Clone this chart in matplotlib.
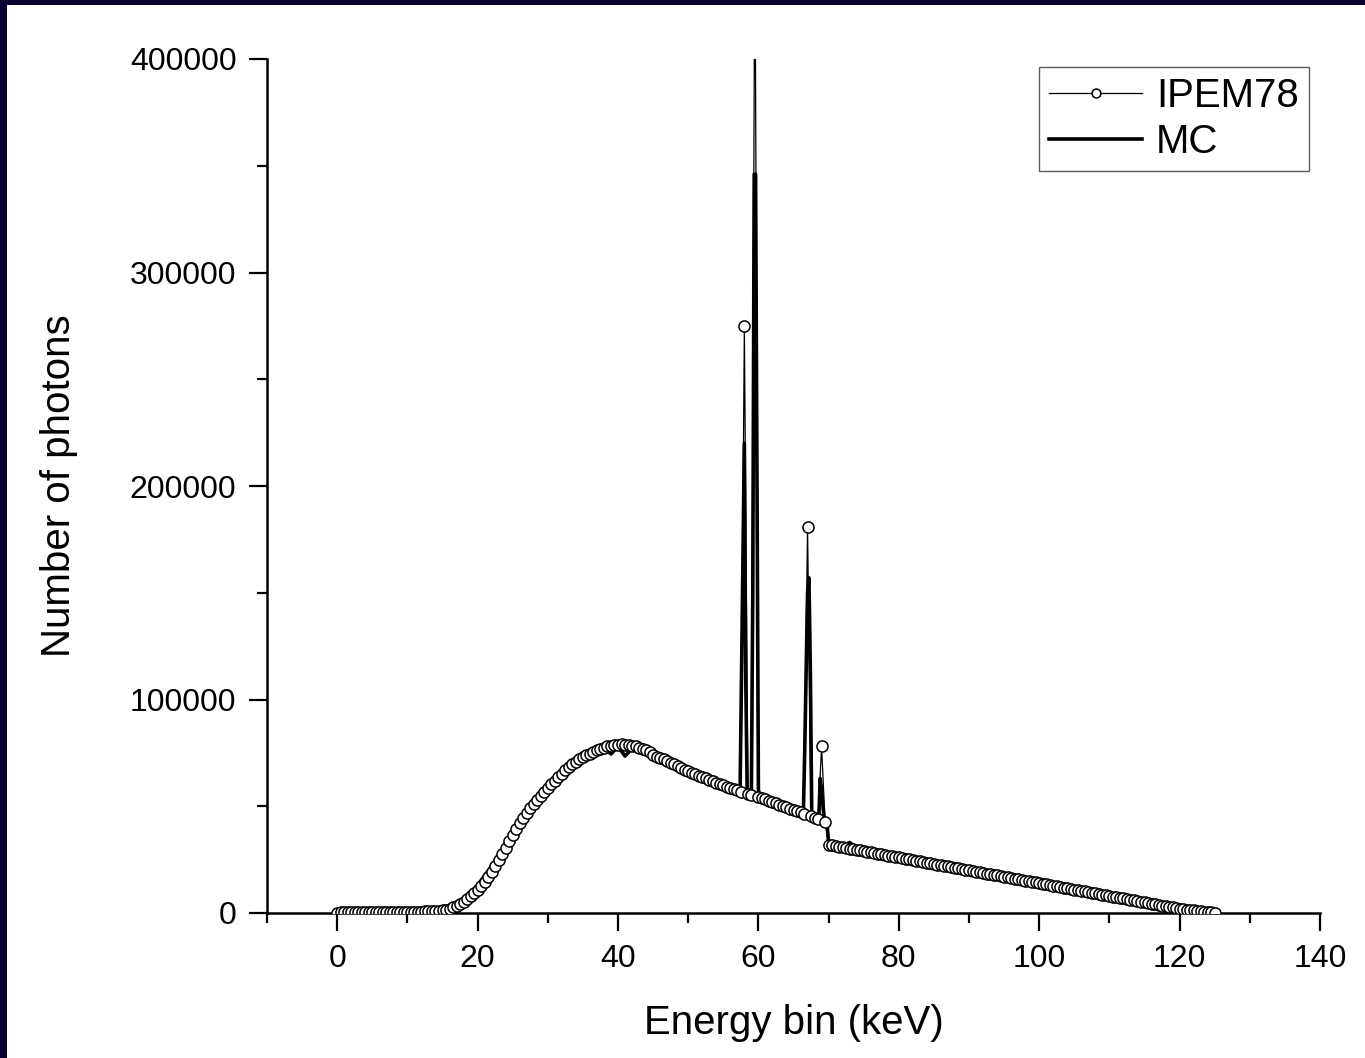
import numpy as np
import matplotlib
matplotlib.use("Agg")
import matplotlib.pyplot as plt
from matplotlib.patches import Rectangle

# IPEM78 spectrum, 0.5 keV bins from 0 to 125 keV (counts)
ipem_counts = [
    200, 300, 400, 400, 500, 500, 500, 500, 500, 500,
    500, 500, 600, 600, 600, 600, 600, 600, 600, 600,
    600, 700, 700, 700, 700, 800, 800, 900, 1000, 1100,
    1300, 1600, 2000, 2600, 3300, 4200, 5200, 6500, 7800, 9300,
    10800, 12600, 14600, 16800, 19200, 21800, 24600, 27500, 30500, 33500,
    36500, 39300, 42000, 44500, 46800, 49000, 51100, 53100, 55000, 56800,
    58500, 60300, 62000, 63700, 65300, 66900, 68300, 69600, 70800, 71900,
    72900, 73800, 74700, 75500, 76200, 76900, 77500, 78000, 78400, 78700,
    78900, 79000, 78900, 78700, 78400, 78000, 77500, 76900, 76200, 75400,
    74000, 73300, 72600, 71900, 71200, 70400, 69600, 68800, 68000, 67200,
    66400, 65700, 65000, 64300, 63600, 63000, 62300, 61700, 61000, 60400,
    59800, 59200, 58600, 58000, 57400, 56800, 275000, 55800, 55300, 470000,
    54300, 53800, 53200, 52600, 52000, 51400, 50700, 50100, 49500, 48900,
    48300, 47700, 47100, 46500, 181000, 45300, 44700, 44100, 78000, 42500,
    32000, 31700, 31400, 31100, 30800, 30500, 30200, 29900, 29600, 29300,
    29000, 28700, 28400, 28100, 27800, 27500, 27200, 26900, 26600, 26300,
    26000, 25700, 25400, 25100, 24800, 24500, 24200, 23900, 23600, 23300,
    23000, 22700, 22400, 22100, 21800, 21500, 21200, 20900, 20600, 20300,
    20000, 19700, 19400, 19100, 18800, 18500, 18200, 17900, 17600, 17300,
    17000, 16700, 16400, 16100, 15800, 15500, 15200, 14900, 14600, 14300,
    14000, 13700, 13400, 13100, 12800, 12500, 12200, 11900, 11600, 11300,
    11000, 10700, 10400, 10100, 9800, 9500, 9200, 8900, 8600, 8300,
    8000, 7700, 7400, 7100, 6800, 6500, 6200, 5900, 5600, 5300,
    5000, 4700, 4400, 4100, 3800, 3500, 3200, 2900, 2600, 2300,
    2000, 1800, 1600, 1400, 1200, 1000, 800, 600, 400, 250,
    100,
]
ipem_energy = np.arange(0, 125.5, 0.5)

# Monte Carlo spectrum (finer bins around the tungsten K lines)
mc_energy = [
    0, 1, 2, 3, 4, 5, 6, 7, 8, 9, 10, 11, 12, 13, 14, 15, 16, 17, 18, 19,
    20, 21, 22, 23, 24, 25, 26, 27, 28, 29, 30, 31, 32, 33, 34, 35, 36, 37, 38, 39,
    40, 41, 42, 43, 44, 45, 46, 47, 48, 49, 50, 51, 52, 53, 54, 55, 56, 57,
    57.2, 57.4, 57.6, 57.8, 58.0, 58.2, 58.4, 58.6, 58.8, 59.0,
    59.2, 59.4, 59.6, 59.8, 60.0, 60.2,
    61, 62, 63, 64, 65, 66,
    66.4, 66.6, 66.8, 67.0, 67.2, 67.4, 67.6, 67.8, 68.0, 68.4,
    68.6, 68.8, 69.0, 69.2, 69.4, 69.6, 69.8, 70.0, 70.2,
    71, 72, 73, 74, 75, 76, 77, 78, 79, 80, 81, 82, 83, 84, 85, 86, 87, 88, 89,
    90, 91, 92, 93, 94, 95, 96, 97, 98, 99, 100, 101, 102, 103, 104, 105, 106,
    107, 108, 109, 110, 111, 112, 113, 114, 115, 116, 117, 118, 119, 120, 121,
    122, 123, 124, 125,
]
mc_counts = [
    300, 500, 600, 500, 600, 700, 600, 700, 800, 700, 800, 900, 900, 1100, 1400,
    1800, 2500, 4000, 6500, 9500,
    13000, 17500, 22000, 27000, 32500, 38000, 43000, 47500, 51500, 55500,
    59000, 62500, 66000, 69000, 71500, 73500, 75500, 76500, 77500, 74500,
    78000, 73500, 77000, 76000, 75000, 73500, 72000, 70500, 69000, 67500,
    66000, 64500, 63500, 62000, 61000, 59500, 58500, 57000,
    57500, 60000, 113000, 166000, 220000, 110000, 57000, 56000, 56500, 56000,
    151000, 346000, 346000, 198000, 58000, 54000,
    53000, 52000, 50500, 49000, 48000, 46500,
    46000, 76000, 114000, 150000, 157000, 114000, 46000, 45000, 44500, 44000,
    43500, 63000, 57500, 50000, 43000, 42000, 41000, 33000, 32500,
    32000, 31500, 33000, 30500, 29800, 29200, 28500, 27800, 27200, 26600,
    26000, 25500, 24900, 24300, 23800, 23200, 22600, 22100, 21500,
    20900, 20400, 19800, 19200, 18700, 18100, 17500, 16900, 16400, 15800,
    15200, 14600, 14000, 13500, 12900, 12300, 11700,
    11200, 10600, 10000, 9400, 8800, 8200, 7700, 7100, 6500, 5900, 5300,
    4700, 4100, 3500, 2900,
    2200, 1500, 800, 200,
]

x_ticks = [0, 20, 40, 60, 80, 100, 120, 140]
y_ticks = [0, 100000, 200000, 300000, 400000]

plt.rcParams['font.family'] = ['Liberation Sans', 'DejaVu Sans']

fig = plt.figure(figsize=(13.65, 10.58), dpi=100)
fig.patch.set_facecolor('white')

# dark frame strips on top and left edge
fig.patches.append(Rectangle((0, 1 - 5 / 1058), 1, 5 / 1058, transform=fig.transFigure,
                             facecolor='#07002f', edgecolor='none'))
fig.patches.append(Rectangle((0, 0), 7 / 1365, 1, transform=fig.transFigure,
                             facecolor='#07002f', edgecolor='none'))

ax = fig.add_axes([267 / 1365, 145 / 1058, 1053 / 1365, 854 / 1058])

mc_line, = ax.plot(mc_energy, mc_counts, color='black', linewidth=2.6, label='MC', zorder=2)
ipem_line, = ax.plot(ipem_energy, ipem_counts, color='black', linewidth=0.9, marker='o',
                     markersize=8, markerfacecolor='white', markeredgecolor='black',
                     markeredgewidth=1.1, label='IPEM78', zorder=3)

ax.set_xlim(-10, 140)
ax.set_ylim(0, 400000)
ax.set_xticks(x_ticks)
ax.set_yticks(y_ticks)
ax.set_xticks(np.arange(-10, 140, 20), minor=True)
ax.set_yticks(np.arange(50000, 400000, 100000), minor=True)
ax.set_yticklabels([str(v) for v in y_ticks])

for side in ['top', 'right']:
    ax.spines[side].set_visible(False)
for side in ['left', 'bottom']:
    ax.spines[side].set_linewidth(1.8)

ax.tick_params(which='major', direction='out', length=13, width=1.6, labelsize=23, pad=9)
ax.tick_params(which='minor', direction='out', length=7, width=1.6)

ax.set_xlabel('Energy bin (keV)', fontsize=29, labelpad=22)
ax.set_ylabel('Number of photons', fontsize=29, labelpad=37)

leg = ax.legend(handles=[ipem_line, mc_line], loc='upper right',
                bbox_to_anchor=(1309 / 1365, 1 - 67 / 1058), bbox_transform=fig.transFigure,
                borderaxespad=0, fontsize=29, frameon=True, fancybox=False,
                handlelength=2.3, handletextpad=0.35, labelspacing=0.2,
                borderpad=0.25, markerscale=0.8)
leg.get_frame().set_edgecolor('#333333')
leg.get_frame().set_linewidth(1.0)

fig.savefig('out.png', dpi=100, facecolor='white')
